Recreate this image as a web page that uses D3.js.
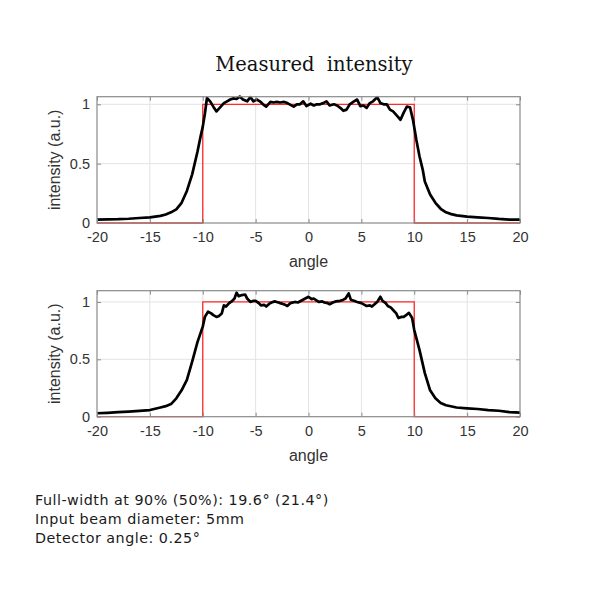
<!DOCTYPE html>
<html>
<head>
<meta charset="utf-8">
<script src="https://cdn.jsdelivr.net/npm/d3@7"></script>
<style>
  body { margin: 0; background: #fff; }
  svg { display: block; }
</style>
</head>
<body>
<svg id="chart" width="600" height="600"></svg>
<script>
// ---- data ----
const xTicks = [-20, -15, -10, -5, 0, 5, 10, 15, 20];
const xTickLabels = ["-20", "-15", "-10", "-5", "0", "5", "10", "15", "20"];
const yTicks = [0, 0.5, 1];
const yTickLabels = ["0", "0.5", "1"];

const idealAngle = [-20, -10, -10, 10, 10, 20];
const idealIntensity = [0, 0, 1, 1, 0, 0];

const topAngle = [-20,-19,-18,-17,-16,-15,-14,-13.5,-13,-12.5,-12,-11.5,-11,-10.5,-10.2,-10,-9.8,-9.6,-9.3,-9.0,-8.7,-8.4,-8.0,-7.7,-7.4,-7.1,-6.8,-6.5,-6.2,-5.8,-5.5,-5.2,-4.9,-4.6,-4.3,-4.0,-3.6,-3.3,-3.0,-2.7,-2.3,-2.0,-1.7,-1.4,-1.1,-0.8,-0.5,-0.2,0.2,0.5,0.8,1.1,1.4,1.7,2.0,2.4,2.7,3.0,3.3,3.6,3.9,4.3,4.6,4.9,5.2,5.5,5.8,6.1,6.5,6.8,7.1,7.4,7.7,8.0,8.4,8.7,9.0,9.3,9.6,9.9,10.2,10.5,10.8,11.0,11.5,12.0,12.5,13.0,13.5,14.0,15.0,16.0,17.0,18.0,19.0,20.0];
const topIntensity = [0.028,0.030,0.032,0.036,0.042,0.048,0.060,0.072,0.090,0.115,0.170,0.270,0.410,0.600,0.730,0.810,0.920,1.053,1.025,0.980,0.940,0.970,1.010,1.025,1.040,1.050,1.045,1.065,1.040,1.025,1.060,1.025,1.040,1.025,1.000,0.980,1.020,1.015,1.020,1.015,1.020,1.010,0.995,0.980,1.000,1.000,1.025,0.985,1.005,0.990,1.000,1.000,1.010,1.025,0.990,1.000,0.990,0.970,0.945,0.955,1.000,1.025,1.040,0.985,0.990,0.970,1.010,1.025,1.060,1.010,1.000,1.000,0.955,0.940,0.900,0.870,0.930,0.980,0.975,0.860,0.700,0.560,0.450,0.350,0.240,0.170,0.120,0.090,0.075,0.064,0.053,0.048,0.042,0.034,0.028,0.028];

const bottomAngle = [-20,-19,-18,-17,-16,-15,-14,-13.5,-13,-12.5,-12,-11.5,-11,-10.5,-10,-9.8,-9.5,-9.2,-9.0,-8.7,-8.5,-8.2,-8.0,-7.8,-7.5,-7.2,-7.0,-6.8,-6.6,-6.3,-6.0,-5.8,-5.5,-5.2,-5.0,-4.7,-4.5,-4.2,-4.0,-3.7,-3.5,-3.2,-3.0,-2.7,-2.5,-2.2,-2.0,-1.7,-1.3,-1.0,-0.7,-0.3,0.0,0.3,0.5,0.8,1.0,1.3,1.5,1.8,2.0,2.3,2.6,3.0,3.3,3.5,3.8,4.0,4.3,4.6,5.0,5.3,5.5,5.8,6.0,6.3,6.5,6.8,7.0,7.3,7.5,7.8,8.0,8.3,8.5,8.8,9.0,9.3,9.5,9.8,10.0,10.5,11.0,11.5,12.0,12.5,13.0,14.0,15.0,16.0,17.0,18.0,19.0,20.0];
const bottomIntensity = [0.030,0.034,0.040,0.044,0.050,0.058,0.080,0.092,0.110,0.160,0.230,0.320,0.480,0.650,0.785,0.870,0.915,0.900,0.885,0.870,0.875,0.900,0.970,0.960,0.990,1.010,1.030,1.080,1.050,1.060,1.065,1.030,1.000,1.010,1.010,0.990,0.970,0.975,0.960,0.985,0.995,1.005,1.000,0.990,0.985,0.975,0.965,0.990,1.000,0.995,1.010,1.030,1.045,1.025,1.030,1.010,1.000,1.005,0.995,0.990,0.980,0.995,1.005,1.010,1.020,1.030,1.075,1.020,1.010,1.000,0.990,0.975,0.965,0.970,0.960,0.985,1.000,1.045,1.010,0.990,0.965,0.950,0.930,0.900,0.860,0.870,0.870,0.890,0.905,0.860,0.755,0.580,0.380,0.230,0.160,0.120,0.100,0.080,0.073,0.067,0.058,0.052,0.040,0.035];

const titleText = "Measured  intensity";
const xLabel = "angle";
const yLabel = "intensity (a.u.)";
const notes = ["Full-width at 90% (50%): 19.6° (21.4°)", "Input beam diameter: 5mm", "Detector angle: 0.25°"];

// ---- drawing ----
const svg = d3.select("#chart");
const axisColor = "#8a8a8a";
const textColor = "#333333";
const gridColor = "#e3e3e3";

svg.append("text")
  .attr("x", 314).attr("y", 71)
  .attr("text-anchor", "middle")
  .attr("font-family", "'DejaVu Serif', serif")
  .attr("font-size", 19.5)
  .attr("fill", "#111")
  .style("white-space", "pre")
  .text(titleText);

function drawPanel(box, yMax, angle, intensity) {
  const x = d3.scaleLinear().domain([-20, 20]).range([box.left, box.right]);
  const y = d3.scaleLinear().domain([0, yMax]).range([box.bottom, box.top]);
  const g = svg.append("g");

  // grid
  g.selectAll(".gx").data(xTicks.slice(1, -1)).enter().append("line")
    .attr("x1", d => x(d)).attr("x2", d => x(d))
    .attr("y1", box.top).attr("y2", box.bottom)
    .attr("stroke", gridColor).attr("stroke-width", 1);
  g.selectAll(".gy").data(yTicks.slice(1)).enter().append("line")
    .attr("x1", box.left).attr("x2", box.right)
    .attr("y1", d => y(d)).attr("y2", d => y(d))
    .attr("stroke", gridColor).attr("stroke-width", 1);

  // ideal profile (red)
  const line = d3.line().x(d => x(d[0])).y(d => y(d[1]));
  g.append("path")
    .datum(d3.zip(idealAngle, idealIntensity))
    .attr("d", line)
    .attr("fill", "none").attr("stroke", "#ff2a2a").attr("stroke-width", 1.3);

  // measured (black)
  g.append("path")
    .datum(d3.zip(angle, intensity))
    .attr("d", line)
    .attr("fill", "none").attr("stroke", "#000").attr("stroke-width", 2.7)
    .attr("stroke-linejoin", "round");

  // axes (bottom / left with labels, top / right plain ticks)
  const xb = g.append("g").attr("transform", `translate(0,${box.bottom})`)
    .call(d3.axisBottom(x).tickValues(xTicks).tickSize(-4).tickPadding(9).tickFormat((d, i) => xTickLabels[i]));
  const yl = g.append("g").attr("transform", `translate(${box.left},0)`)
    .call(d3.axisLeft(y).tickValues(yTicks).tickSize(-4).tickPadding(7).tickFormat((d, i) => yTickLabels[i]));
  const xt = g.append("g").attr("transform", `translate(0,${box.top})`)
    .call(d3.axisTop(x).tickValues(xTicks).tickSize(-4).tickFormat(""));
  const yr = g.append("g").attr("transform", `translate(${box.right},0)`)
    .call(d3.axisRight(y).tickValues(yTicks).tickSize(-4).tickFormat(""));
  [xb, yl, xt, yr].forEach(a => {
    a.select(".domain").remove();
    a.selectAll("line").attr("stroke", axisColor);
    a.selectAll("text").attr("fill", textColor)
      .attr("font-family", "'Liberation Sans', Arial, sans-serif")
      .attr("font-size", 14.5);
  });
  yl.selectAll("text").attr("dy", "0.3em");
  g.append("rect")
    .attr("x", box.left).attr("y", box.top)
    .attr("width", box.right - box.left).attr("height", box.bottom - box.top)
    .attr("fill", "none").attr("stroke", axisColor).attr("stroke-width", 1.2);

  g.append("text")
    .attr("x", (box.left + box.right) / 2).attr("y", box.bottom + 44)
    .attr("text-anchor", "middle")
    .attr("font-family", "'Liberation Sans', Arial, sans-serif")
    .attr("font-size", 16).attr("fill", textColor)
    .text(xLabel);
  g.append("text")
    .attr("transform", `translate(${box.left - 37},${(box.top + box.bottom) / 2}) rotate(-90)`)
    .attr("text-anchor", "middle")
    .attr("font-family", "'Liberation Sans', Arial, sans-serif")
    .attr("font-size", 16).attr("fill", textColor)
    .text(yLabel);
}

drawPanel({ left: 97, right: 520, top: 96.7, bottom: 223 }, 1.064, topAngle, topIntensity);
drawPanel({ left: 97, right: 520, top: 290.7, bottom: 416.7 }, 1.098, bottomAngle, bottomIntensity);

svg.selectAll(".note").data(notes).enter().append("text")
  .attr("x", 35).attr("y", (d, i) => 505 + i * 19)
  .attr("font-family", "'DejaVu Sans', Verdana, sans-serif")
  .attr("font-size", 14.3).attr("letter-spacing", 0.5).attr("fill", "#1a1a1a")
  .text(d => d);
</script>
</body>
</html>
